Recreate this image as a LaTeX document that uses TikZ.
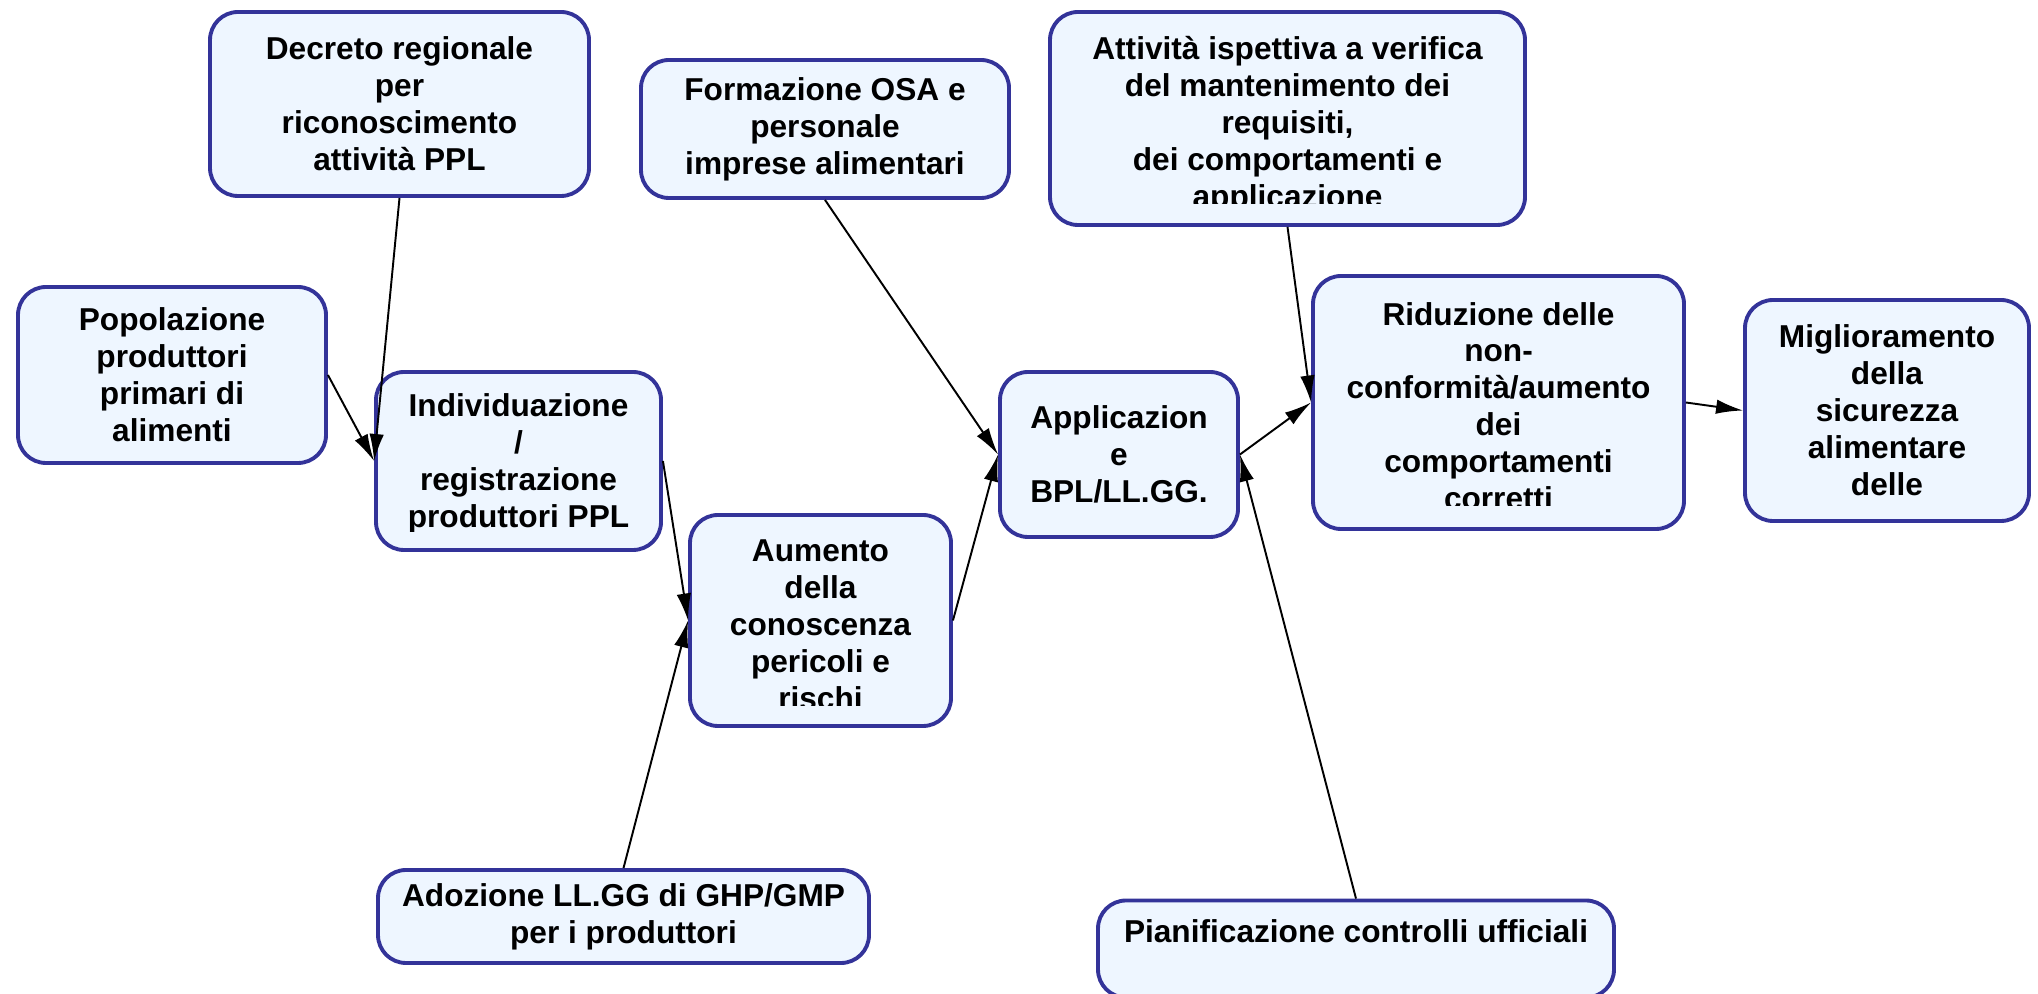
\documentclass[tikz,border=0pt]{standalone}
\usepackage{fontspec}
\setmainfont{Liberation Sans}
\usepackage{trimclip}
\usetikzlibrary{positioning,arrows.meta}

\definecolor{boxfill}{RGB}{238,246,255}
\definecolor{boxline}{RGB}{51,51,153}

% text that is cut off at the bottom of its box
\newcommand{\cuttext}[2]{\clipbox{0pt #1 0pt 0pt}{\raisebox{0pt}[\height][0pt]{\begin{tabular}[b]{@{}c@{}}#2\end{tabular}}}}

\begin{document}
\begin{tikzpicture}[auto,>={Latex[length=2.7mm,width=1.45mm]},line width=0.55pt]
\tikzstyle{block} = [draw=boxline, fill=boxfill, line width=1.1pt, rounded corners=0.28cm, shape=rectangle, align=center, inner sep=0pt, font=\bfseries\fontsize{9}{10.5}\selectfont]

\useasboundingbox (0,0) rectangle (20.38,-9.94);

% Inputs
\node [block, minimum width=3.79cm, minimum height=1.84cm] at (3.995,-1.04) (decreto) {Decreto regionale\\per\\riconoscimento\\attivit\`a PPL};
\node [block, minimum width=3.08cm, minimum height=1.76cm] at (1.72,-3.75) (popolazione) {Popolazione\\produttori\\primari di\\alimenti};
\node [block, minimum width=3.68cm, minimum height=1.38cm] at (8.25,-1.29) (formazione) {Formazione OSA e\\personale\\imprese alimentari};
\node [block, minimum width=4.75cm, minimum height=2.13cm] at (12.875,-1.185) (ispezione) {\cuttext{1.1pt}{Attivit\`a ispettiva a verifica\\del mantenimento dei\\requisiti,\\dei comportamenti e\\applicazione}};
\node [block, minimum width=4.91cm, minimum height=0.93cm] at (6.235,-9.165) (adozione) {Adozione LL.GG di GHP/GMP\\per i produttori};
\node [block, minimum width=5.16cm, minimum height=0.97cm] at (13.56,-9.49) (pianificazione) {Pianificazione controlli ufficiali\\\mbox{}};

% Chain
\node [block, minimum width=2.85cm, minimum height=1.78cm] at (5.185,-4.61) (individuazione) {\cuttext{-1pt}{Individuazione\\/\\registrazione\\produttori PPL}};
\node [block, minimum width=2.61cm, minimum height=2.11cm] at (8.205,-6.205) (aumento) {\cuttext{1.1pt}{Aumento\\della\\conoscenza\\pericoli e\\rischi}};
\node [block, minimum width=2.38cm, minimum height=1.65cm] at (11.19,-4.545) (applicazione) {Applicazion\\e\\BPL/LL.GG.};
\node [block, minimum width=3.71cm, minimum height=2.53cm] at (14.985,-4.025) (riduzione) {\cuttext{1.1pt}{Riduzione delle\\non-\\conformit\`a/aumento\\dei\\comportamenti\\corretti}};
\node [block, minimum width=2.84cm, minimum height=2.21cm] at (18.87,-4.105) (miglioramento) {Miglioramento\\della\\sicurezza\\alimentare\\delle};

% Connectors
\draw[->] (decreto.south) -- (individuazione.west);
\draw[->] (popolazione.east) -- (individuazione.west);
\draw[->] (individuazione.east) -- (aumento.west);
\draw[->] (adozione.north) -- (aumento.west);
\draw[->] (aumento.east) -- (applicazione.west);
\draw[->] (formazione.south) -- (applicazione.west);
\draw[->] (applicazione.east) -- (riduzione.west);
\draw[->] (pianificazione.north) -- (applicazione.east);
\draw[->] (ispezione.south) -- (riduzione.west);
\draw[->] (riduzione.east) -- (miglioramento.west);

\end{tikzpicture}
\end{document}
